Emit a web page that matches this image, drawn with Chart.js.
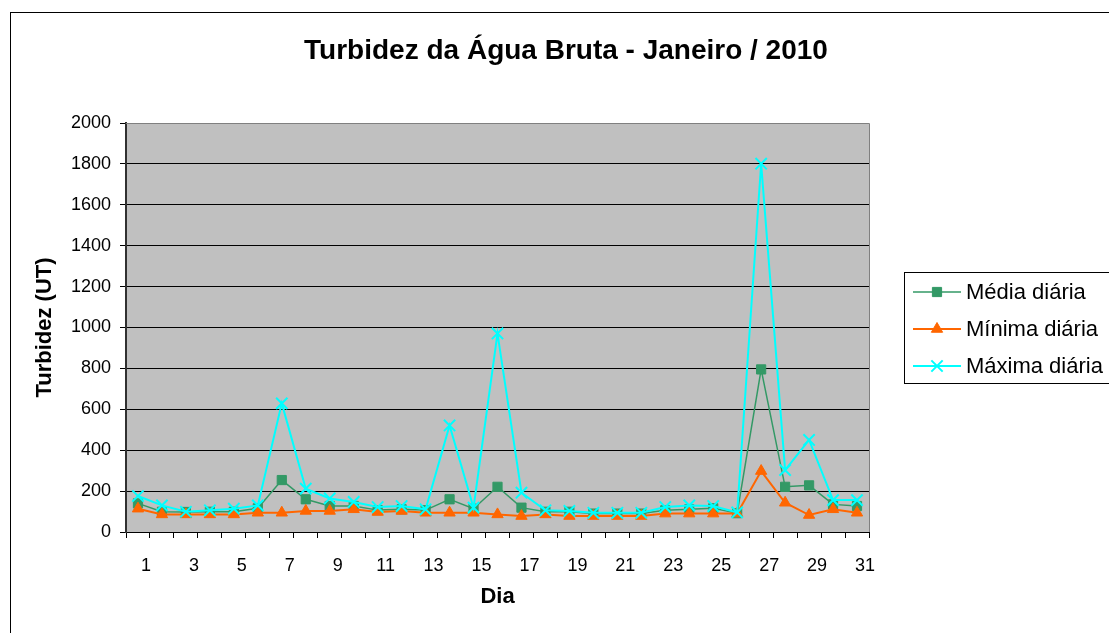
<!DOCTYPE html>
<html>
<head>
<meta charset="utf-8">
<script src="https://cdn.jsdelivr.net/npm/chart.js@4.4.1/dist/chart.umd.min.js"></script>
<style>
  html, body { margin: 0; padding: 0; background: #fff; }
  #wrap { width: 1109px; height: 633px; }
</style>
</head>
<body>
<div id="wrap"><canvas id="turbChart" width="1109" height="633"></canvas></div>
<script>
// Dias do mês
const dias = ['1','2','3','4','5','6','7','8','9','10','11','12','13','14','15','16',
              '17','18','19','20','21','22','23','24','25','26','27','28','29','30','31'];

// Turbidez (UT)
const mediaDiaria = [140, 99, 98, 99, 99, 116, 254, 160, 127, 127, 107, 111, 107, 160, 114, 221,
                     119, 99, 99, 90, 90, 90, 106, 111, 116, 92, 795, 221, 228, 135, 127];
const minimaDiaria = [114, 86, 86, 86, 86, 94, 94, 103, 103, 111, 98, 103, 94, 94, 94, 86,
                      78, 86, 78, 78, 78, 78, 90, 90, 90, 90, 298, 143, 83, 111, 94];
const maximaDiaria = [176, 130, 99, 106, 114, 130, 629, 212, 164, 147, 122, 127, 111, 521, 119, 971,
                      192, 106, 103, 94, 94, 94, 122, 130, 127, 96, 1801, 303, 450, 156, 156];

const yTicks = [0, 200, 400, 600, 800, 1000, 1200, 1400, 1600, 1800, 2000];

const TITULO = 'Turbidez da Água Bruta - Janeiro / 2010';
const FONT = "'Liberation Sans', Arial, sans-serif";

// fundo da área do gráfico, moldura, título e legenda
const moldura = {
    id: 'moldura',
    beforeDraw(chart) {
        const ctx = chart.ctx;
        const a = chart.chartArea;
        ctx.save();
        ctx.fillStyle = '#fff';
        ctx.fillRect(0, 0, chart.width, chart.height);
        ctx.strokeStyle = '#000';
        ctx.lineWidth = 1;
        ctx.strokeRect(10.5, 12.5, chart.width + 20, chart.height + 20);
        ctx.fillStyle = '#c0c0c0';
        ctx.fillRect(a.left, a.top, a.right - a.left, a.bottom - a.top);
        ctx.restore();
    },
    afterDraw(chart) {
        const ctx = chart.ctx;
        const a = chart.chartArea;
        ctx.save();
        ctx.strokeStyle = '#808080';
        ctx.lineWidth = 1;
        ctx.beginPath();
        ctx.moveTo(a.left, a.top + 0.5);
        ctx.lineTo(a.right + 0.5, a.top + 0.5);
        ctx.lineTo(a.right + 0.5, a.bottom);
        ctx.stroke();

        // título
        ctx.fillStyle = '#000';
        ctx.font = 'bold 28px ' + FONT;
        ctx.textAlign = 'center';
        ctx.textBaseline = 'middle';
        ctx.fillText(TITULO, 566, 51);

        // legenda
        ctx.strokeStyle = '#000';
        ctx.lineWidth = 1;
        ctx.strokeRect(904.5, 272.5, 300, 111);
        const rows = [292, 329, 366];
        chart.data.datasets.forEach((ds, i) => {
            const y = rows[i];
            ctx.strokeStyle = ds.borderColor;
            ctx.lineWidth = ds.borderWidth;
            ctx.beginPath();
            ctx.moveTo(913, y);
            ctx.lineTo(961, y);
            ctx.stroke();
            ctx.fillStyle = ds.pointBackgroundColor;
            ctx.strokeStyle = ds.pointBorderColor;
            ctx.lineWidth = ds.pointBorderWidth;
            Chart.helpers.drawPoint(ctx, {
                pointStyle: ds.pointStyle,
                radius: ds.pointRadius,
                borderWidth: ds.pointBorderWidth
            }, 937, y);
            ctx.fillStyle = '#000';
            ctx.font = '22px ' + FONT;
            ctx.textBaseline = 'middle';
            ctx.textAlign = 'left';
            ctx.fillText(ds.label, 966, y + 1);
        });
        ctx.restore();
    }
};

document.addEventListener('DOMContentLoaded', function() {
    const ctx = document.getElementById('turbChart').getContext('2d');

    new Chart(ctx, {
        type: 'line',
        data: {
            labels: dias,
            datasets: [{
                label: 'Média diária',
                data: mediaDiaria,
                borderColor: '#339966',
                borderWidth: 1.5,
                pointStyle: 'rect',
                pointRadius: 6.5,
                pointBackgroundColor: '#339966',
                pointBorderColor: '#339966',
                pointBorderWidth: 1,
                tension: 0,
                order: 2
            }, {
                label: 'Mínima diária',
                data: minimaDiaria,
                borderColor: '#ff6600',
                borderWidth: 2,
                pointStyle: 'triangle',
                pointRadius: 6.5,
                pointBackgroundColor: '#ff6600',
                pointBorderColor: '#ff6600',
                pointBorderWidth: 1,
                tension: 0,
                order: 1
            }, {
                label: 'Máxima diária',
                data: maximaDiaria,
                borderColor: '#00ffff',
                borderWidth: 2,
                pointStyle: 'crossRot',
                pointRadius: 8,
                pointBackgroundColor: '#00ffff',
                pointBorderColor: '#00ffff',
                pointBorderWidth: 2,
                tension: 0,
                order: 0
            }]
        },
        options: {
            responsive: false,
            animation: false,
            events: [],
            layout: { padding: { left: 0, right: 240, top: 123, bottom: 0 } },
            plugins: {
                legend: { display: false },
                tooltip: { enabled: false },
                title: { display: false }
            },
            scales: {
                x: {
                    type: 'category',
                    offset: true,
                    grid: {
                        offset: true,
                        drawOnChartArea: false,
                        drawTicks: true,
                        tickLength: 6,
                        color: '#000'
                    },
                    border: { color: '#000', width: 1 },
                    ticks: {
                        autoSkip: false,
                        maxRotation: 0,
                        padding: 17,
                        labelOffset: 8,
                        color: '#000',
                        font: { family: FONT, size: 18 },
                        callback: function(v, i) { return i % 2 === 0 ? dias[i] : ''; }
                    },
                    title: {
                        display: true,
                        text: 'Dia',
                        color: '#000',
                        font: { family: FONT, size: 22, weight: 'bold' },
                        padding: { top: 0, bottom: 23 }
                    },
                    afterFit: s => { s.height = 101; }
                },
                y: {
                    min: 0,
                    max: 2000,
                    afterBuildTicks: s => { s.ticks = yTicks.map(v => ({ value: v })); },
                    grid: {
                        color: c => (c.tick && c.tick.value === 2000 ? '#808080' : '#000'),
                        tickColor: '#000',
                        tickLength: 6,
                        lineWidth: 1
                    },
                    border: { color: '#303030', width: 2 },
                    ticks: {
                        padding: 9,
                        color: '#000',
                        font: { family: FONT, size: 18 },
                        callback: v => String(v)
                    },
                    title: {
                        display: true,
                        text: 'Turbidez (UT)',
                        color: '#000',
                        font: { family: FONT, size: 22, weight: 'bold' },
                        padding: { top: 32, bottom: 0 }
                    },
                    afterFit: s => { s.width = 126; }
                }
            }
        },
        plugins: [moldura]
    });
});
</script>
</body>
</html>
